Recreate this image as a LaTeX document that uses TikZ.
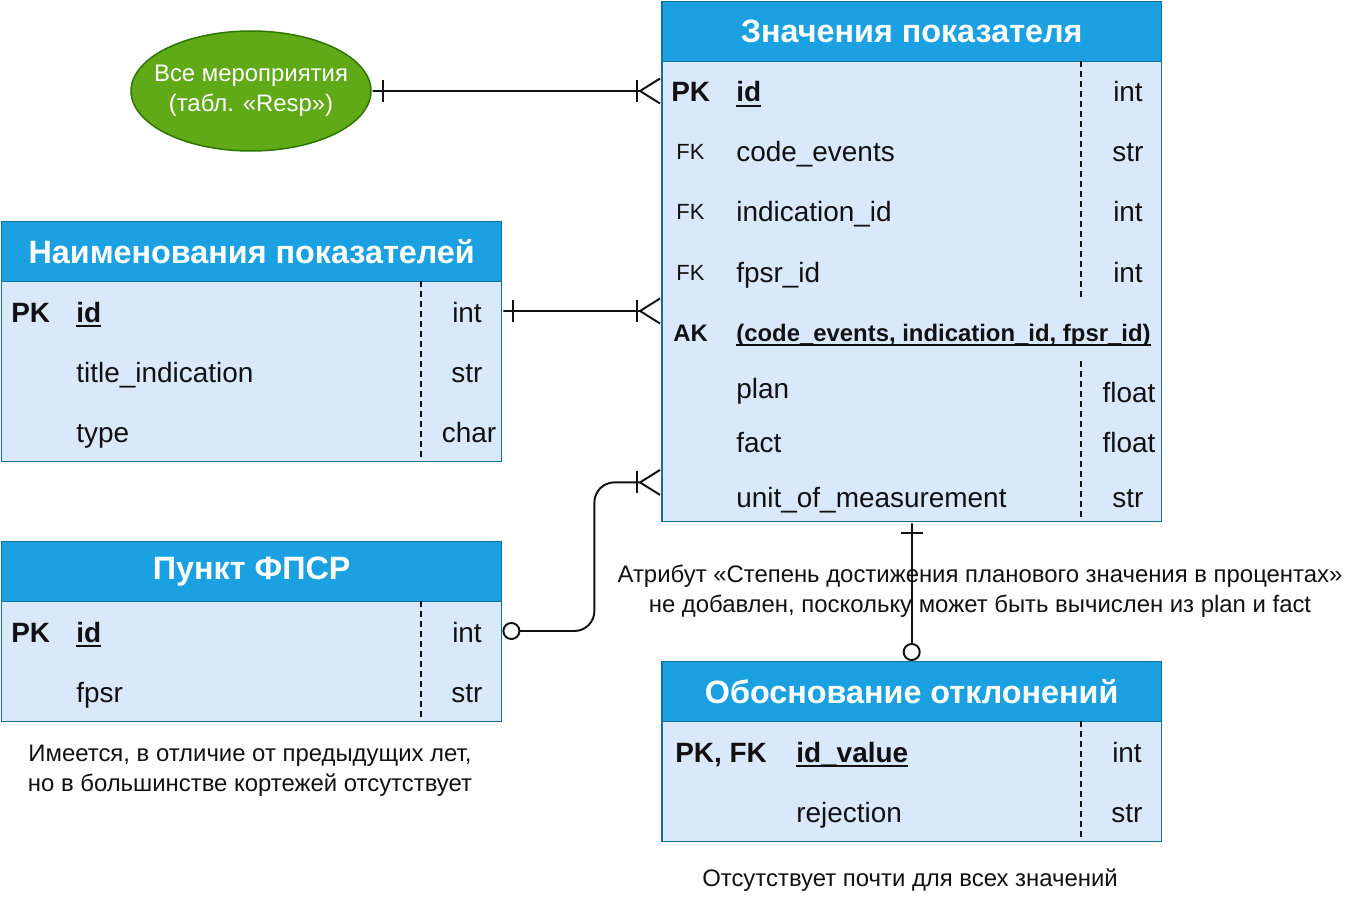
\documentclass[tikz,border=0pt]{standalone}
\usepackage{fontspec}
\setmainfont{Liberation Sans}
\usetikzlibrary{positioning, arrows.meta, calc, shapes.geometric}
\definecolor{ink}{HTML}{111111}
\definecolor{erhead}{HTML}{1BA1E2}
\definecolor{erbody}{HTML}{DAE8FC}
\definecolor{erframe}{HTML}{10739E}
\definecolor{resp}{HTML}{60A917}
\definecolor{respline}{HTML}{2D7600}
\newcommand{\fhead}{\fontsize{18.4}{22}\selectfont\bfseries}
\newcommand{\frow}{\fontsize{15.9}{19}\selectfont}
\newcommand{\fak}{\fontsize{13.6}{16}\selectfont\bfseries}
\newcommand{\fsmall}{\fontsize{12.5}{17}\selectfont}
\newcommand{\fnote}{\fontsize{13.6}{17}\selectfont}
\newcommand{\erul}[1]{\setbox0\hbox{\bfseries #1}\rlap{\rule[-3pt]{\wd0}{1.2pt}}\box0}
\tikzset{
  every node/.style = {text=ink, inner sep=0pt},
  erhdr/.style   = {draw=erframe, line width=0.85pt, fill=erhead, anchor=north west,
                    minimum width=10cm, minimum height=1.2cm, text=white, font=\fhead},
  erbox/.style   = {draw=erframe, line width=0.85pt, fill=erbody, anchor=north west,
                    minimum width=10cm},
  erresp/.style  = {ellipse, draw=respline, line width=0.85pt, fill=resp,
                    minimum width=4.8cm, minimum height=2.4cm},
  errespt/.style = {text=white, align=center, font=\fnote},
  erkey/.style   = {anchor=base west, font=\frow\bfseries},
  erfk/.style    = {anchor=base west, font=\fsmall},
  erattr/.style  = {anchor=base west, font=\frow},
  ertype/.style  = {anchor=base, font=\frow},
  ernote/.style  = {align=center, font=\fnote},
  erlink/.style  = {draw=ink, line width=1.1pt},
  ersplit/.style = {draw=ink, line width=1.1pt, dash pattern=on 3.4pt off 2.3pt},
  erone/.tip     = {Bar[width=0.44cm] Rectangle[length=0.2cm, width=1.1pt]},
  ermany/.tip    = {Bar[width=0.44cm] Straight Barb[reversed, length=0.4cm, width=0.5cm]},
  erzero/.tip    = {Circle[open, fill=white, length=0.36cm]},
}

\begin{document}
\begin{tikzpicture}[x=0.02cm, y=-0.02cm]
\useasboundingbox (0,0) rectangle (1362,902);

% Значения показателя
\node[erbox, minimum height=9.2cm] (valbody) at (661,61) {};
\node[erhdr] (valhead) at (661,1) {Значения показателя};
\node[erkey]  (valid-k) at (671,102) {PK};
\node[erattr] (valid)   at (736,102) {\erul{id}};
\node[ertype] (valid-t) at (1128,102) {int};
\foreach \yy/\nm/\tp/\id in {162/code\_events/str/valcode, 222/indication\_id/int/valind,
                             282/fpsr\_id/int/valfps}{
  \node[erfk]   (\id-k) at (676,\yy-2) {FK};
  \node[erattr] (\id)   at (736,\yy) {\nm};
  \node[ertype] (\id-t) at (1128,\yy) {\tp};
}
\node[erkey, font=\fak] (valak-k) at (673,341) {AK};
\node[erattr, font=\fak] (valak) at (736,341) {\erul{(code\_events, indication\_id, fpsr\_id)}};
\node[erattr] (valplan)   at (736,398) {plan};
\node[ertype] (valplan-t) at (1129,402) {float};
\node[erattr] (valfact)   at (736,452) {fact};
\node[ertype] (valfact-t) at (1129,452) {float};
\node[erattr] (valunit)   at (736,507) {unit\_of\_measurement};
\node[ertype] (valunit-t) at (1128,507) {str};
\draw[ersplit] (1081,61) -- (1081,297);
\draw[ersplit] (1081,361) -- (1081,521);

% Наименования показателей
\node[erbox, minimum height=3.6cm] (nambody) at (1,281) {};
\node[erhdr] (namhead) at (1,221) {Наименования показателей};
\node[erkey]  (namid-k) at (11,322) {PK};
\node[erattr] (namid)   at (76,322) {\erul{id}};
\node[ertype] (namid-t) at (467,322) {int};
\node[erattr] (namtitle)   at (76,382) {title\_indication};
\node[ertype] (namtitle-t) at (467,382) {str};
\node[erattr] (namtype)    at (76,442) {type};
\node[ertype] (namtype-t)  at (469,442) {char};
\draw[ersplit] (421,281) -- (421,461);

% Пункт ФПСР
\node[erbox, minimum height=2.4cm] (fpsbody) at (1,601) {};
\node[erhdr] (fpshead) at (1,541) {Пункт ФПСР};
\node[erkey]  (fpsid-k) at (11,642) {PK};
\node[erattr] (fpsid)   at (76,642) {\erul{id}};
\node[ertype] (fpsid-t) at (467,642) {int};
\node[erattr] (fpsname)   at (76,702) {fpsr};
\node[ertype] (fpsname-t) at (467,702) {str};
\draw[ersplit] (421,601) -- (421,721);

% Обоснование отклонений
\node[erbox, minimum height=2.4cm] (obbody) at (661,721) {};
\node[erhdr] (obhead) at (661,661) {Обоснование отклонений};
\node[erkey]  (obid-k) at (675,762) {PK, FK};
\node[erattr] (obid)   at (796,762) {\erul{id\_value}};
\node[ertype] (obid-t) at (1127,762) {int};
\node[erattr] (obrej)   at (796,822) {rejection};
\node[ertype] (obrej-t) at (1127,822) {str};
\draw[ersplit] (1081,721) -- (1081,841);

\node[erresp] (resp) at (251,91) {};
\node[errespt] (resp-t) at (resp.center) {Все мероприятия\\(табл. «Resp»)};

% notes
\node[ernote] (noteattr) at (980,591)
  {Атрибут «Степень достижения планового значения в процентах»\\
   не добавлен, поскольку может быть вычислен из plan и fact};
\node[ernote] (noteyear) at (250,771)
  {Имеется, в отличие от предыдущих лет,\\но в большинстве кортежей отсутствует};
\node[ernote] (noteob) at (910,880) {Отсутствует почти для всех значений};

% links
\draw[erlink, {erone}-{ermany}] (resp.east) -- (resp.east -| valbody.west);
\draw[erlink, {erone}-{ermany}] ($(nambody.north east)+(0,30)$) -- ($(valbody.north west)+(0,250)$);
\draw[erlink, {erzero}-{ermany}, rounded corners=0.4cm]
  ($(fpsbody.north east)+(0,30)$) -- ++(92,0) |- ($(valbody.south west)+(0,-40)$);
\draw[erlink, {erone}-{erzero}] (valbody.south) -- (obhead.north);
\end{tikzpicture}
\end{document}
